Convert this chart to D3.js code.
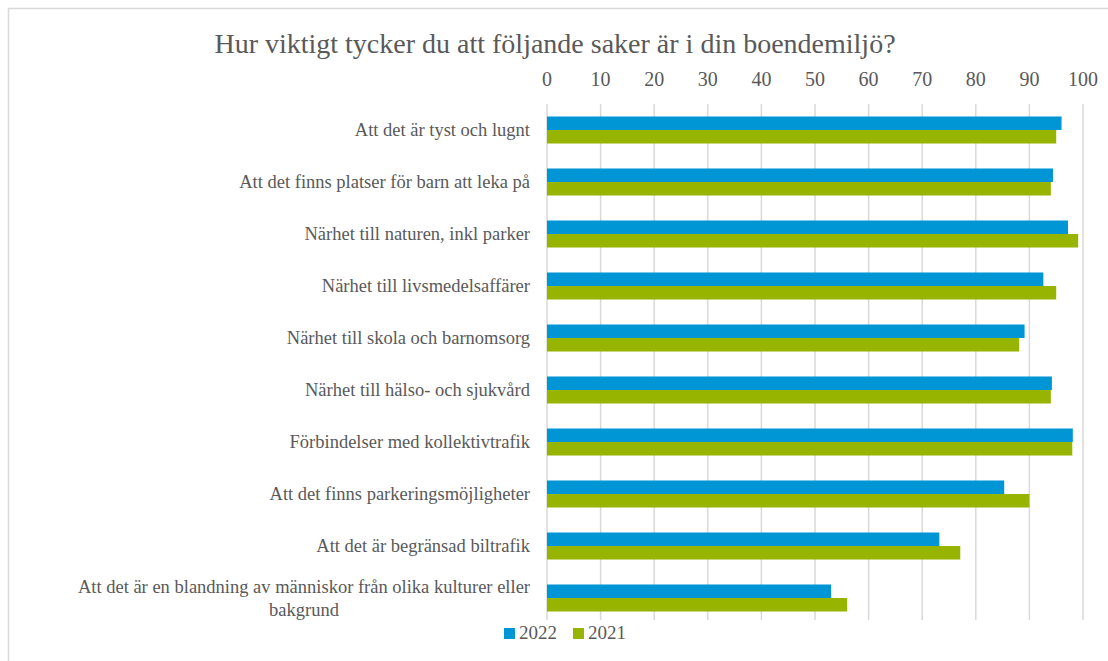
<!DOCTYPE html>
<html>
<head>
<meta charset="utf-8">
<script src="https://cdn.jsdelivr.net/npm/d3@7"></script>
<style>
  body { margin: 0; background: #fff; }
</style>
</head>
<body>
<svg id="chart" width="1108" height="661"></svg>
<script>
// data
var categories = [
  ["Att det är tyst och lugnt"],
  ["Att det finns platser för barn att leka på"],
  ["Närhet till naturen, inkl parker"],
  ["Närhet till livsmedelsaffärer"],
  ["Närhet till skola och barnomsorg"],
  ["Närhet till hälso- och sjukvård"],
  ["Förbindelser med kollektivtrafik"],
  ["Att det finns parkeringsmöjligheter"],
  ["Att det är begränsad biltrafik"],
  ["Att det är en blandning av människor från olika kulturer eller", "bakgrund"]
];
var values2022 = [96, 94.4, 97.2, 92.6, 89.1, 94.2, 98.1, 85.3, 73.2, 53];
var values2021 = [95, 94, 99.1, 95, 88.1, 94, 98, 90, 77.1, 56];
var seriesNames = ["2022", "2021"];
var tickValues = [0, 10, 20, 30, 40, 50, 60, 70, 80, 90, 100];
var title = "Hur viktigt tycker du att följande saker är i din boendemiljö?";

var colors = {"2022": "#0096d6", "2021": "#97b500"};
var textColor = "#595959";

var svg = d3.select("#chart");

var margin = {top: 104, left: 547};
var width = 1083 - margin.left;
var plotBottom = 624;

// outer chart border
svg.append("rect")
    .attr("x", 8.5)
    .attr("y", 8.5)
    .attr("width", 1120)
    .attr("height", 680)
    .attr("fill", "none")
    .attr("stroke", "#d9d9d9")
    .attr("stroke-width", 1.5);

svg.append("text")
    .attr("x", 555)
    .attr("y", 53)
    .attr("font-size", 28)
    .attr("fill", textColor)
    .attr("font-family", "Liberation Serif")
    .style("font-family", "Liberation Serif")
    .attr("text-anchor", "middle")
    .text(title);

var x = d3.scaleLinear()
    .domain([0, 100])
    .range([margin.left, margin.left + width]);

var y = d3.scaleBand()
    .domain(d3.range(categories.length))
    .range([margin.top, plotBottom])
    .paddingInner(0.48)
    .paddingOuter(0.24);

var ySub = d3.scaleBand()
    .domain(seriesNames)
    .range([0, y.bandwidth()]);

// gridlines
svg.append("g")
  .selectAll("line")
  .data(tickValues)
  .join("line")
    .attr("x1", d => x(d))
    .attr("x2", d => x(d))
    .attr("y1", margin.top)
    .attr("y2", 620)
    .attr("stroke", "#d9d9d9")
    .attr("stroke-width", 1.5);

// top axis labels
svg.selectAll("text.tick")
  .data(tickValues)
  .join("text")
    .attr("class", "tick")
    .attr("x", d => x(d))
    .attr("y", 86)
    .attr("font-size", 20)
    .attr("fill", textColor)
    .attr("font-family", "Liberation Serif")
    .style("font-family", "Liberation Serif")
    .attr("text-anchor", "middle")
    .text(d => d);

// bars
var rows = categories.map(function(c, i) {
  return {i: i, vals: [{s: "2022", v: values2022[i]}, {s: "2021", v: values2021[i]}]};
});

var groups = svg.append("g")
  .selectAll("g")
  .data(rows)
  .join("g")
    .attr("transform", d => "translate(0," + y(d.i) + ")");

groups.selectAll("rect")
  .data(d => d.vals)
  .join("rect")
    .attr("x", x(0))
    .attr("y", d => ySub(d.s))
    .attr("width", d => x(d.v) - x(0))
    .attr("height", ySub.bandwidth())
    .attr("fill", d => colors[d.s]);

// category labels: each line centred on the middle of the widest line,
// so the block is right-aligned to the plot and wrapped lines are centred
var labelRight = 530;
var lineH = 23;
var labelLines = [];
categories.forEach(function(lines, i) {
  lines.forEach(function(l, k) {
    labelLines.push({cat: i, k: k, n: lines.length, text: l});
  });
});

var labels = svg.selectAll("text.cat")
  .data(labelLines)
  .join("text")
    .attr("class", "cat")
    .attr("y", d => y(d.cat) + y.bandwidth() / 2 + 6 - (d.n - 1) * lineH / 2 + d.k * lineH)
    .attr("font-size", 18.5)
    .attr("fill", textColor)
    .attr("font-family", "Liberation Serif")
    .style("font-family", "Liberation Serif")
    .attr("text-anchor", "end")
    .attr("x", labelRight)
    .text(d => d.text);

// wrapped labels: centre the shorter lines under the longest
var widths = {};
labels.each(function(d) {
  var w = this.getComputedTextLength();
  widths[d.cat] = Math.max(widths[d.cat] || 0, w);
});
labels.filter(d => d.n > 1)
    .attr("text-anchor", "middle")
    .attr("x", d => labelRight - widths[d.cat] / 2);

// legend
var legendX = d3.scaleOrdinal()
    .domain(seriesNames)
    .range([504, 573]);

svg.selectAll("rect.key")
  .data(seriesNames)
  .join("rect")
    .attr("class", "key")
    .attr("x", d => legendX(d))
    .attr("y", 628)
    .attr("width", 11)
    .attr("height", 11)
    .attr("fill", d => colors[d]);

svg.selectAll("text.key")
  .data(seriesNames)
  .join("text")
    .attr("class", "key")
    .attr("x", d => legendX(d) + 15)
    .attr("y", 639)
    .attr("font-size", 19)
    .attr("fill", textColor)
    .attr("font-family", "Liberation Serif")
    .style("font-family", "Liberation Serif")
    .text(d => d);
</script>
</body>
</html>
